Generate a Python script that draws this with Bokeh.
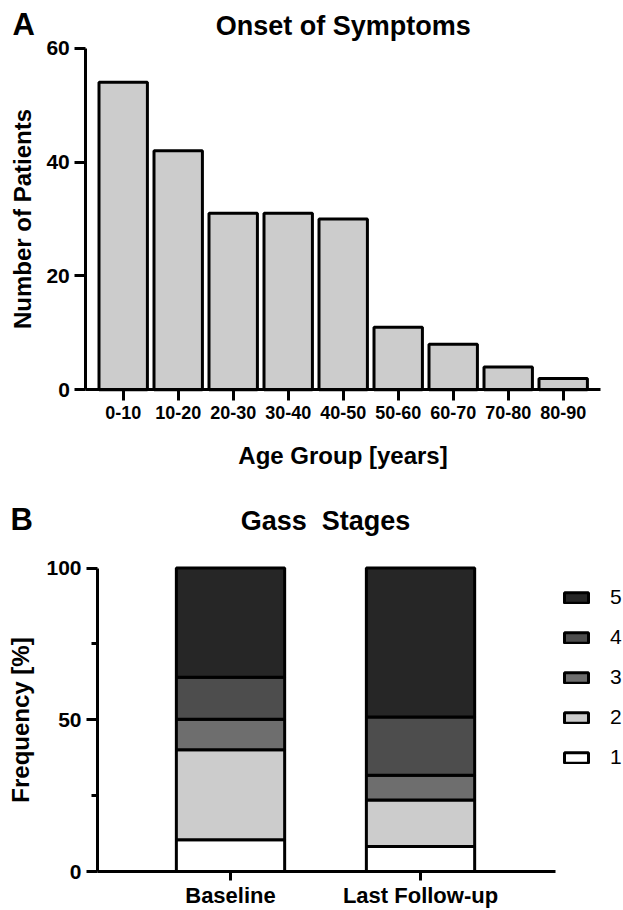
from bokeh.plotting import figure
from bokeh.models import Label, Legend, LegendItem, FixedTicker, ColumnDataSource, Range1d
from bokeh.embed import file_html
from bokeh.resources import INLINE

# ---------------- data ----------------
age_groups = ["0-10", "10-20", "20-30", "30-40", "40-50", "50-60", "60-70", "70-80", "80-90"]
patients = [54, 42, 31, 31, 30, 11, 8, 4, 2]

timepoints = ["Baseline", "Last Follow-up"]
stage_labels = ["1", "2", "3", "4", "5"]
stage1 = [10.5, 8.2]
stage2 = [29.6, 15.4]
stage3 = [10.1, 8.1]
stage4 = [13.8, 19.2]
stage5 = [36.0, 49.1]
stage_colors = ["#ffffff", "#cccccc", "#6e6e6e", "#4d4d4d", "#262626"]

FONT = "Liberation Sans"


def style_axes(p):
    p.outline_line_color = None
    p.xgrid.grid_line_color = None
    p.ygrid.grid_line_color = None
    for ax in (p.xaxis[0], p.yaxis[0]):
        ax.axis_line_width = 3
        ax.axis_line_color = "black"
        ax.major_tick_line_width = 3
        ax.major_tick_line_color = "black"
        ax.major_tick_in = 0
        ax.major_tick_out = 11
        ax.minor_tick_in = 0
        ax.minor_tick_out = 0
        ax.major_label_text_font = FONT
        ax.major_label_text_font_style = "bold"
        ax.major_label_text_color = "black"
        ax.major_label_standoff = 5
        ax.axis_label_text_font = FONT
        ax.axis_label_text_font_style = "bold"
        ax.axis_label_text_font_size = "24px"
        ax.axis_label_text_color = "black"


def text_label(text, x, y, size, align="left"):
    return Label(x=x, y=y, text=text, text_font=FONT, text_font_size=size,
                 text_font_style="bold", text_align=align, text_baseline="middle",
                 text_color="black")


# ---------------- Panel A ----------------
xa = list(range(len(age_groups)))
a_pad = 0.68
pa = figure(width=622, height=474, output_backend="svg", toolbar_location=None,
            x_range=Range1d(-2.231, 9.078), y_range=Range1d(-14.88, 68.38),
            min_border=0)
pa.vbar(x=xa, top=patients, width=0.88, fill_color="#cccccc",
        line_color="black", line_width=3)
style_axes(pa)
pa.xaxis.ticker = FixedTicker(ticks=xa)
pa.xaxis.major_label_overrides = {i: lab for i, lab in zip(xa, age_groups)}
pa.xaxis.bounds = (-a_pad, xa[-1] + a_pad)
pa.xaxis.fixed_location = 0
pa.xaxis.major_label_text_font_size = "18px"
pa.xaxis.axis_label = "Age Group [years]"
pa.xaxis.axis_label_standoff = 20
pa.yaxis.ticker = FixedTicker(ticks=[0, 20, 40, 60])
pa.yaxis.bounds = (0, 60)
pa.yaxis.fixed_location = -a_pad
pa.yaxis.major_label_text_font_size = "21px"
pa.yaxis.axis_label = "Number of Patients"
pa.yaxis.axis_label_standoff = 7
pa.add_layout(text_label("Onset of Symptoms", (xa[0] + xa[-1]) / 2, 63.82, "27px", "center"))
pa.add_layout(text_label("A", -2.013, 64.08, "31px"))

# ---------------- Panel B ----------------
xb = list(range(len(timepoints)))
b_pad = 0.70
src = ColumnDataSource(dict(x=xb, s1=stage1, s2=stage2, s3=stage3, s4=stage4, s5=stage5))
pb = figure(width=622, height=434, output_backend="svg", toolbar_location=None,
            x_range=Range1d(-1.2105, 2.063), y_range=Range1d(-12.19, 130.81),
            min_border=0)
rs = pb.vbar_stack(["s1", "s2", "s3", "s4", "s5"], x="x", width=0.57, source=src,
                   fill_color=stage_colors, line_color="black", line_width=3)
style_axes(pb)
pb.xaxis.ticker = FixedTicker(ticks=xb)
pb.xaxis.major_label_overrides = {i: lab for i, lab in zip(xb, timepoints)}
pb.xaxis.bounds = (-b_pad, xb[-1] + 0.71)
pb.xaxis.fixed_location = 0
pb.xaxis.major_tick_out = 9
pb.xaxis.major_label_standoff = 2
pb.xaxis.major_label_text_font_size = "22px"
pb.yaxis.ticker = FixedTicker(ticks=[0, 50, 100], minor_ticks=[25, 75])
pb.yaxis.bounds = (0, 100)
pb.yaxis.fixed_location = -b_pad
pb.yaxis.minor_tick_out = 6
pb.yaxis.minor_tick_line_width = 3
pb.yaxis.minor_tick_line_color = "black"
pb.yaxis.major_label_text_font_size = "21px"
pb.yaxis.axis_label = "Frequency [%]"
pb.yaxis.axis_label_standoff = 9
pb.add_layout(text_label("Gass\u00a0 Stages", (xb[0] + xb[-1]) / 2, 115.65, "27px", "center"))
pb.add_layout(text_label("B", -1.158, 115.98, "31px"))

items = [LegendItem(label=stage_labels[i], renderers=[rs[i]]) for i in reversed(range(5))]
legend = Legend(items=items, location=(561, 139), orientation="vertical",
                glyph_width=30, glyph_height=13, label_standoff=19, label_height=20,
                spacing=16, padding=0, margin=0, border_line_color=None,
                background_fill_alpha=0, label_text_font=FONT, label_text_font_size="21px",
                label_text_color="black")
pb.add_layout(legend)

open("out.html", "w").write(file_html([pa, pb], INLINE))
